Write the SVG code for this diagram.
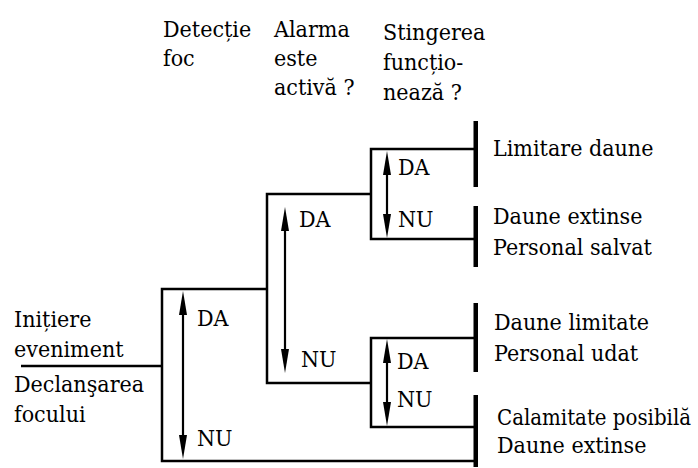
<svg xmlns="http://www.w3.org/2000/svg" width="698" height="468" viewBox="0 0 698 468">
<style>
text{font-family:"DejaVu Serif Condensed","DejaVu Serif",serif;font-stretch:condensed;font-size:23px;fill:#000}
.ln{fill:none;stroke:#000;stroke-width:2.5}
.ar{fill:none;stroke:#000;stroke-width:2.2;marker-start:url(#ah);marker-end:url(#ah)}
.bar{fill:#000}
</style>
<defs>
<marker id="ah" viewBox="0 0 24 8" refX="14" refY="4" markerWidth="24" markerHeight="8" markerUnits="userSpaceOnUse" orient="auto-start-reverse">
<path d="M0,0 L24,4 L0,8 z" fill="#000"/>
</marker>
</defs>
<g id="headers">
<text x="163" y="37">Detecție</text>
<text x="163" y="66">foc</text>
<text x="274" y="37">Alarma</text>
<text x="274" y="66">este</text>
<text x="274" y="95">activă ?</text>
<text x="383" y="40">Stingerea</text>
<text x="383" y="70">funcțio-</text>
<text x="383" y="100">nează ?</text>
</g>
<g id="connectors">
<path class="ln" d="M21,366 H162"/>
<path class="ln" d="M267,289 H162 V461 H476"/>
<path class="ln" d="M371,194 H267 V383 H371"/>
<path class="ln" d="M476,149 H371 V239 H476"/>
<path class="ln" d="M476,338 H371 V427 H476"/>
<line class="ar" x1="183" y1="301" x2="183" y2="449"/>
<line class="ar" x1="285" y1="217" x2="285" y2="363"/>
<line class="ar" x1="387" y1="161" x2="387" y2="228"/>
<line class="ar" x1="387" y1="349" x2="387" y2="416"/>
</g>
<g id="start">
<text x="14" y="327">Inițiere</text>
<text x="14" y="357">eveniment</text>
<text x="14" y="392">Declanşarea</text>
<text x="14" y="422">focului</text>
</g>
<g id="node-detectie">
<text x="197" y="326">DA</text>
<text x="197" y="446">NU</text>
</g>
<g id="node-alarma">
<text x="299" y="227">DA</text>
<text x="301" y="367">NU</text>
</g>
<g id="node-stingere-1">
<text x="398" y="175">DA</text>
<text x="398" y="227">NU</text>
</g>
<g id="node-stingere-2">
<text x="397" y="369">DA</text>
<text x="397" y="407">NU</text>
</g>
<g id="outcome-1">
<rect class="bar" x="473.5" y="121" width="4.5" height="66"/>
<text x="493" y="156">Limitare daune</text>
</g>
<g id="outcome-2">
<rect class="bar" x="473.5" y="206" width="4.5" height="61"/>
<text x="493" y="224">Daune extinse</text>
<text x="493" y="255">Personal salvat</text>
</g>
<g id="outcome-3">
<rect class="bar" x="473.5" y="303" width="4.5" height="69"/>
<text x="494" y="330">Daune limitate</text>
<text x="494" y="361">Personal udat</text>
</g>
<g id="outcome-4">
<rect class="bar" x="473.5" y="395" width="4.5" height="72"/>
<text x="497" y="425" style="font-size:22px">Calamitate posibilă</text>
<text x="497" y="453">Daune extinse</text>
</g>
</svg>
